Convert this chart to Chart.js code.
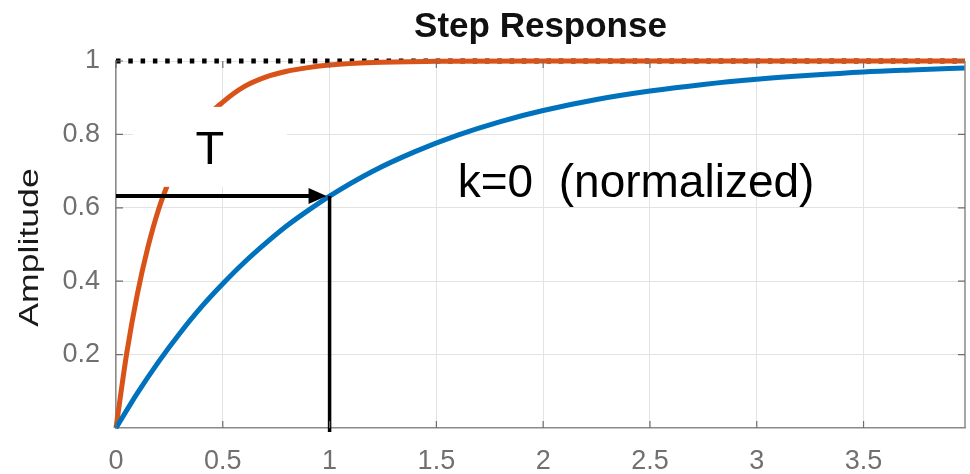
<!DOCTYPE html>
<html>
<head>
<meta charset="utf-8">
<script src="https://cdn.jsdelivr.net/npm/chart.js@4.4.1/dist/chart.umd.min.js"></script>
<style>
  html, body { margin: 0; padding: 0; background: #fff; }
  #wrap { width: 970px; height: 474px; }
</style>
</head>
<body>
<div id="wrap"><canvas id="step" width="970" height="474"></canvas></div>
<script>
// values
const blueTime = [0, 0.1, 0.2, 0.3, 0.4, 0.5, 0.6, 0.7, 0.8, 0.9, 1.0, 1.2, 1.4, 1.6, 1.8, 2.0, 2.25, 2.5, 2.75, 3.0, 3.25, 3.5, 3.75, 3.975];
const blueAmp  = [0, 0.095, 0.181, 0.259, 0.330, 0.393, 0.451, 0.503, 0.551, 0.593, 0.632, 0.699, 0.753, 0.798, 0.835, 0.865, 0.895, 0.918, 0.936, 0.950, 0.961, 0.970, 0.976, 0.981];

const orangeTime = [0, 0.05, 0.1, 0.15, 0.2, 0.25, 0.3, 0.4, 0.5, 0.6, 0.7, 0.8, 0.9, 1.0, 1.2, 1.5, 2.0, 3.0, 3.975];
const orangeAmp  = [0, 0.203, 0.365, 0.494, 0.597, 0.675, 0.740, 0.832, 0.888, 0.930, 0.956, 0.972, 0.982, 0.989, 0.996, 0.999, 1, 1, 1];

const finalValue = 1;
const tauTime = 1;
const tauAmp = 0.632;

const xTicks = [0, 0.5, 1, 1.5, 2, 2.5, 3, 3.5];
const yTicks = [0.2, 0.4, 0.6, 0.8, 1];
const xMax = 3.975;

const pts = (ts, vs) => ts.map((t, i) => ({ x: t, y: vs[i] }));

const overlay = {
  id: 'overlay',
  afterDatasetsDraw(chart) {
    const { ctx, chartArea: a, scales: { x, y } } = chart;
    ctx.save();

    // white label box over the orange curve
    const bx0 = x.getPixelForValue(0.08), bx1 = x.getPixelForValue(0.80);
    const by0 = y.getPixelForValue(0.875), by1 = y.getPixelForValue(0.657);
    ctx.fillStyle = '#fff';
    ctx.fillRect(bx0, by0, bx1 - bx0, by1 - by0);

    ctx.fillStyle = '#000';
    ctx.font = '47px "Liberation Sans", Arial, sans-serif';
    ctx.textAlign = 'center';
    ctx.textBaseline = 'alphabetic';
    ctx.fillText('T', x.getPixelForValue(0.44), y.getPixelForValue(0.72));

    // arrow to the time constant
    const ay = y.getPixelForValue(tauAmp);
    const ax0 = x.getPixelForValue(0);
    const tip = x.getPixelForValue(tauTime) - 3;
    ctx.strokeStyle = '#000';
    ctx.lineWidth = 4;
    ctx.beginPath();
    ctx.moveTo(ax0, ay);
    ctx.lineTo(tip - 12, ay);
    ctx.stroke();
    ctx.beginPath();
    ctx.moveTo(tip, ay);
    ctx.lineTo(tip - 18, ay - 8);
    ctx.lineTo(tip - 18, ay + 8);
    ctx.closePath();
    ctx.fill();

    // vertical drop line
    const vx = x.getPixelForValue(tauTime);
    ctx.lineWidth = 3.5;
    ctx.beginPath();
    ctx.moveTo(vx, ay);
    ctx.lineTo(vx, a.bottom + 4);
    ctx.stroke();

    ctx.textAlign = 'left';
    ctx.font = '46px "Liberation Sans", Arial, sans-serif';
    ctx.fillText('k=0  (normalized)', x.getPixelForValue(1.6), y.getPixelForValue(0.63));
    ctx.restore();
  },
  afterDraw(chart) {
    const { ctx, chartArea: a, scales: { x, y } } = chart;
    ctx.save();
    // box edges
    ctx.strokeStyle = '#8a8a8a';
    ctx.lineWidth = 1.5;
    ctx.beginPath();
    ctx.moveTo(a.right, a.top);
    ctx.lineTo(a.right, a.bottom);
    ctx.stroke();

    // inward tick marks
    ctx.strokeStyle = '#6e6e6e';
    ctx.lineWidth = 1.2;
    ctx.beginPath();
    xTicks.forEach(v => {
      const px = x.getPixelForValue(v);
      ctx.moveTo(px, a.bottom); ctx.lineTo(px, a.bottom - 7);
      ctx.moveTo(px, a.top); ctx.lineTo(px, a.top + 7);
    });
    yTicks.forEach(v => {
      const py = y.getPixelForValue(v);
      ctx.moveTo(a.left, py); ctx.lineTo(a.left + 7, py);
      ctx.moveTo(a.right, py); ctx.lineTo(a.right - 7, py);
    });
    ctx.stroke();

    // title
    ctx.fillStyle = '#111';
    ctx.font = 'bold 35px "Liberation Sans", Arial, sans-serif';
    ctx.textAlign = 'center';
    ctx.textBaseline = 'middle';
    ctx.fillText('Step Response', (a.left + a.right) / 2, 27);

    // y axis label
    ctx.translate(31, (a.top + a.bottom) / 2 + 3);
    ctx.rotate(-Math.PI / 2);
    ctx.scale(1.32, 1);
    ctx.fillStyle = '#1a1a1a';
    ctx.font = '27px "Liberation Sans", Arial, sans-serif';
    ctx.fillText('Amplitude', 0, 0);
    ctx.restore();
  }
};

const tickFont = { family: '"Liberation Sans", Arial, sans-serif', size: 27 };

new Chart(document.getElementById('step'), {
  type: 'line',
  data: {
    datasets: [
      {
        data: pts(blueTime, blueAmp),
        borderColor: '#0072BD',
        borderWidth: 5,
        pointRadius: 0,
        cubicInterpolationMode: 'monotone',
        clip: 6
      },
      {
        data: pts(orangeTime, orangeAmp),
        borderColor: '#D95319',
        borderWidth: 5,
        pointRadius: 0,
        cubicInterpolationMode: 'monotone',
        clip: 6
      },
      {
        data: [{ x: 0, y: finalValue }, { x: xMax, y: finalValue }],
        borderColor: '#000',
        borderWidth: 5,
        borderDash: [4.5, 7.8],
        borderCapStyle: 'butt',
        pointRadius: 0,
        clip: 8
      }
    ]
  },
  options: {
    responsive: false,
    animation: false,
    devicePixelRatio: 1,
    layout: { padding: { top: 61, right: 5, left: 0, bottom: 0 } },
    plugins: { legend: { display: false }, tooltip: { enabled: false } },
    scales: {
      x: {
        type: 'linear',
        min: 0,
        max: xMax,
        afterBuildTicks: s => { s.ticks = xTicks.map(v => ({ value: v })); },
        afterFit: s => { s.height = 46; },
        grid: { color: '#e3e3e3', lineWidth: 1, drawTicks: false },
        border: { color: '#8a8a8a', width: 1.5 },
        ticks: {
          padding: 17,
          color: '#707070',
          font: tickFont,
          maxRotation: 0,
          callback: v => String(v)
        }
      },
      y: {
        type: 'linear',
        min: 0,
        max: 1,
        afterBuildTicks: s => { s.ticks = yTicks.map(v => ({ value: v })); },
        afterFit: s => { s.width = 116; },
        grid: { color: '#e3e3e3', lineWidth: 1, drawTicks: false },
        border: { color: '#8a8a8a', width: 1.5 },
        ticks: {
          padding: 16,
          color: '#707070',
          font: tickFont,
          callback: v => String(v)
        }
      }
    }
  },
  plugins: [overlay]
});
</script>
</body>
</html>
